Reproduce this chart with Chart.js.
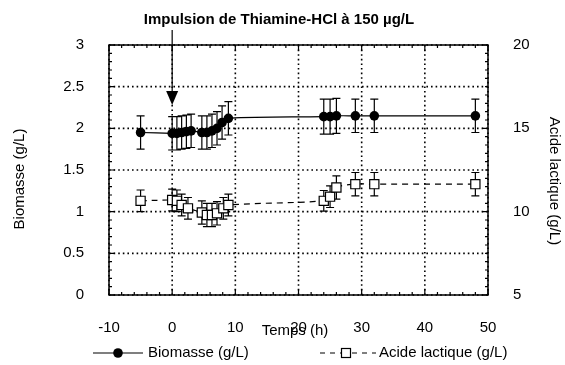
<!DOCTYPE html>
<html>
<head>
<meta charset="utf-8">
<script src="https://cdn.jsdelivr.net/npm/chart.js@4/dist/chart.umd.min.js"></script>
<style>
  body { margin: 0; background: #fff; }
  canvas { display: block; }
</style>
</head>
<body>
<canvas id="graf" width="565" height="365"></canvas>
<script>
// valeurs
const tempsBiomasse = [-5, 0, 0.75, 1.5, 2.25, 3, 4.7, 5.5, 6.3, 7.1, 7.9, 8.9, 24, 25, 26, 29, 32, 48];
const biomasse      = [1.95, 1.94, 1.94, 1.95, 1.96, 1.97, 1.95, 1.95, 1.97, 2.0, 2.07, 2.12, 2.14, 2.14, 2.15, 2.15, 2.15, 2.15];
const errBiomasse   = [0.2, 0.2, 0.2, 0.2, 0.2, 0.2, 0.2, 0.2, 0.2, 0.2, 0.2, 0.2, 0.21, 0.21, 0.21, 0.2, 0.2, 0.2];

const tempsAcide = [-5, 0, 0.75, 1.5, 2.5, 4.7, 5.5, 6.3, 7.1, 8.1, 8.9, 24, 25, 26, 29, 32, 48];
const acide      = [10.65, 10.7, 10.65, 10.4, 10.2, 9.95, 9.8, 9.8, 9.9, 10.2, 10.4, 10.65, 10.9, 11.45, 11.65, 11.65, 11.65];
const errAcide   = [0.65, 0.65, 0.65, 0.65, 0.65, 0.7, 0.7, 0.7, 0.7, 0.65, 0.65, 0.62, 0.65, 0.7, 0.7, 0.7, 0.7];

const titre = 'Impulsion de Thiamine-HCl à 150 µg/L';
const tempsImpulsion = 0;
const pointeFleche = 2.28;

const police = '"Liberation Sans", Arial, sans-serif';

const aPoints = (xs, ys) => xs.map((x, i) => ({ x: x, y: ys[i] }));

// grille pointillée, barres d'erreur, cadre, graduations, titres et légende
const decor = {
  id: 'decor',
  beforeDatasetsDraw(chart) {
    const ctx = chart.ctx;
    const a = chart.chartArea;
    const sx = chart.scales.x, sy = chart.scales.y;
    ctx.save();
    ctx.strokeStyle = '#000';
    ctx.lineWidth = 1.6;
    ctx.setLineDash([1.6, 3]);
    ctx.beginPath();
    sx.ticks.forEach((t) => {
      const x = sx.getPixelForValue(t.value);
      ctx.moveTo(x, a.top); ctx.lineTo(x, a.bottom);
    });
    sy.ticks.forEach((t) => {
      const y = sy.getPixelForValue(t.value);
      ctx.moveTo(a.left, y); ctx.lineTo(a.right, y);
    });
    ctx.stroke();
    ctx.setLineDash([]);

    ctx.lineWidth = 1.2;
    chart.data.datasets.forEach((ds) => {
      const syd = chart.scales[ds.yAxisID];
      ctx.beginPath();
      ds.data.forEach((p, i) => {
        const x = sx.getPixelForValue(p.x);
        const haut = syd.getPixelForValue(p.y + ds.erreurs[i]);
        const bas = syd.getPixelForValue(p.y - ds.erreurs[i]);
        ctx.moveTo(x, haut); ctx.lineTo(x, bas);
        ctx.moveTo(x - 4, haut); ctx.lineTo(x + 4, haut);
        ctx.moveTo(x - 4, bas); ctx.lineTo(x + 4, bas);
      });
      ctx.stroke();
    });
    ctx.restore();
  },
  afterDraw(chart) {
    const ctx = chart.ctx;
    const a = chart.chartArea;
    const sx = chart.scales.x, sy = chart.scales.y, sy2 = chart.scales.y2;
    ctx.save();
    ctx.strokeStyle = '#000';
    ctx.fillStyle = '#000';
    ctx.lineWidth = 1.5;
    ctx.strokeRect(a.left, a.top, a.right - a.left, a.bottom - a.top);

    // graduations vers l'intérieur
    ctx.lineWidth = 1.2;
    ctx.beginPath();
    for (let v = -10; v <= 50; v += 2) {
      const x = sx.getPixelForValue(v);
      const l = v % 10 === 0 ? 6 : 3;
      ctx.moveTo(x, a.bottom); ctx.lineTo(x, a.bottom - l);
      ctx.moveTo(x, a.top); ctx.lineTo(x, a.top + l);
    }
    for (let k = 0; k <= 30; k++) {
      const y = sy.getPixelForValue(k / 10);
      const l = k % 5 === 0 ? 6 : 3;
      ctx.moveTo(a.left, y); ctx.lineTo(a.left + l, y);
    }
    for (let k = 10; k <= 40; k++) {
      const y = sy2.getPixelForValue(k / 2);
      const l = k % 10 === 0 ? 6 : 3;
      ctx.moveTo(a.right, y); ctx.lineTo(a.right - l, y);
    }
    ctx.stroke();

    // titre et flèche
    ctx.lineWidth = 1.2;
    ctx.font = 'bold 15px ' + police;
    ctx.textAlign = 'center';
    ctx.textBaseline = 'alphabetic';
    ctx.fillText(titre, 279, 24);
    const xf = sx.getPixelForValue(tempsImpulsion);
    const yf = sy.getPixelForValue(pointeFleche);
    ctx.beginPath();
    ctx.moveTo(xf, 30); ctx.lineTo(xf, yf - 12);
    ctx.stroke();
    ctx.beginPath();
    ctx.moveTo(xf - 6, yf - 14); ctx.lineTo(xf + 6, yf - 14); ctx.lineTo(xf, yf);
    ctx.closePath();
    ctx.fill();

    // titres des axes
    ctx.font = '15px ' + police;
    ctx.textBaseline = 'middle';
    ctx.fillText('Temps (h)', 295, 331);
    ctx.save();
    ctx.translate(20, 179);
    ctx.rotate(-Math.PI / 2);
    ctx.fillText('Biomasse (g/L)', 0, 0);
    ctx.restore();
    ctx.save();
    ctx.translate(554, 181);
    ctx.rotate(Math.PI / 2);
    ctx.fillText('Acide lactique (g/L)', 0, 0);
    ctx.restore();

    // légende
    const yl = 353;
    ctx.beginPath();
    ctx.moveTo(93, yl); ctx.lineTo(143, yl);
    ctx.stroke();
    ctx.beginPath();
    ctx.arc(118, yl, 4.8, 0, Math.PI * 2);
    ctx.fill();
    ctx.setLineDash([5, 5]);
    ctx.beginPath();
    ctx.moveTo(320, yl); ctx.lineTo(341, yl);
    ctx.moveTo(352, yl); ctx.lineTo(376, yl);
    ctx.stroke();
    ctx.setLineDash([]);
    ctx.strokeRect(341.5, yl - 4.5, 9, 9);
    ctx.textAlign = 'left';
    ctx.fillText('Biomasse (g/L)', 148, yl);
    ctx.fillText('Acide lactique (g/L)', 379, yl);
    ctx.restore();
  }
};

Chart.defaults.color = '#000';
Chart.defaults.font.family = police;
Chart.defaults.font.size = 15;

new Chart(document.getElementById('graf'), {
  type: 'line',
  data: {
    datasets: [{
      label: 'Biomasse (g/L)',
      data: aPoints(tempsBiomasse, biomasse),
      erreurs: errBiomasse,
      yAxisID: 'y',
      borderColor: '#000',
      borderWidth: 1.2,
      backgroundColor: '#000',
      pointRadius: 4.8,
      pointBorderWidth: 0,
      tension: 0.35,
      fill: false
    }, {
      label: 'Acide lactique (g/L)',
      data: aPoints(tempsAcide, acide),
      erreurs: errAcide,
      yAxisID: 'y2',
      borderColor: '#000',
      borderWidth: 1.2,
      borderDash: [6, 5],
      backgroundColor: '#fff',
      pointStyle: 'rect',
      pointRadius: 6.5,
      pointBorderWidth: 1.2,
      pointBorderColor: '#000',
      tension: 0.35,
      fill: false
    }]
  },
  options: {
    responsive: false,
    animation: false,
    layout: { padding: { top: 45, left: 0, right: 0, bottom: 0 } },
    plugins: { legend: { display: false }, tooltip: { enabled: false } },
    scales: {
      x: {
        type: 'linear',
        min: -10, max: 50,
        ticks: { stepSize: 10, padding: 16, maxRotation: 0, callback: (v) => String(v) },
        grid: { display: false },
        border: { display: false },
        afterFit: (s) => { s.height = 70; }
      },
      y: {
        position: 'left',
        min: 0, max: 3,
        ticks: { stepSize: 0.5, padding: 17, callback: (v) => String(v) },
        grid: { display: false },
        border: { display: false },
        afterFit: (s) => { s.width = 109; }
      },
      y2: {
        position: 'right',
        min: 5, max: 20,
        ticks: { stepSize: 5, padding: 17, callback: (v) => String(v) },
        grid: { display: false },
        border: { display: false },
        afterFit: (s) => { s.width = 77; }
      }
    }
  },
  plugins: [decor]
});
</script>
</body>
</html>
